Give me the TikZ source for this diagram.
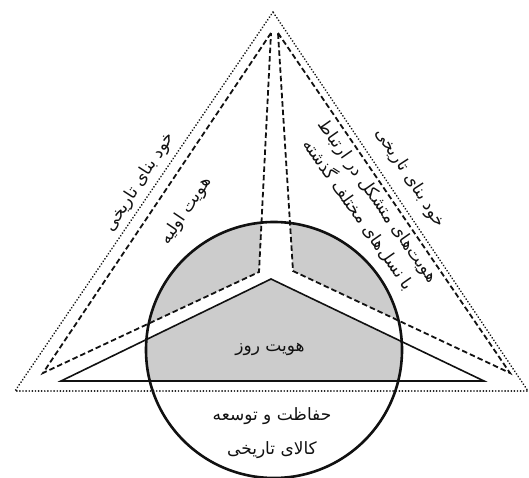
\documentclass[tikz,border=0pt]{standalone}
\usepackage{fontspec}
\newfontfamily\arabicfont[Script=Arabic]{DejaVu Sans}
\TeXXeTstate=1
\usepackage{xcolor}
\definecolor{fondGris}{HTML}{CCCCCC}
\definecolor{traitNoir}{HTML}{111111}
\usepackage{tikz}
\usetikzlibrary{calc}
\newcommand{\Droite}[1]{\beginR #1\endR}
\tikzset{
  %% -- Contours ---------------------------------------------------------
  %% The dotted frame is the building itself, the dashed pair the old
  %% identities, the plain triangle today's identity.
  cadrePoint/.style  = {draw=traitNoir, line width=1.9pt, line cap=round,
                        dash pattern=on 0.01pt off 3.1pt},
  cadreTiret/.style  = {draw=traitNoir, line width=1.8pt,
                        dash pattern=on 5.5pt off 3pt},
  cadrePlein/.style  = {draw=traitNoir, line width=1.6pt, line join=miter},
  cercleRoz/.style   = {draw=traitNoir, line width=2.6pt},
  zoneGrise/.style   = {fill=fondGris, draw=none},
  %%
  %% -- Text -------------------------------------------------------------
  etiquette/.style   = {font=\arabicfont\fontsize{17}{24}\selectfont,
                        text=traitNoir, inner sep=1pt, align=center},
}
\begin{document}
\begin{tikzpicture}[x=1pt, y=-1pt]
\useasboundingbox (0,0) rectangle (529,478);

% corners
\coordinate (sommet) at (273,12);
\coordinate (basG) at (15,391);
\coordinate (basD) at (528,391);
\coordinate (tiretSomG) at (271,33);
\coordinate (tiretSomD) at (278,33);
\coordinate (tiretBasG) at (43,373);
\coordinate (tiretBasD) at (510,373);
\coordinate (tiretIntG) at (259,272);
\coordinate (tiretIntD) at (293,271);
\coordinate (pleinSom) at (271,279);
\coordinate (pleinBasG) at (61,381);
\coordinate (pleinBasD) at (484,381);
\coordinate (centre) at (274,350);

% grey inside the circle
\begin{scope}
  \clip (centre) circle (128);
  \fill[zoneGrise] (tiretSomG) -- (tiretBasG) -- (tiretIntG) -- cycle;
  \fill[zoneGrise] (tiretSomD) -- (tiretBasD) -- (tiretIntD) -- cycle;
  \fill[zoneGrise] (pleinSom) -- (pleinBasG) -- (pleinBasD) -- cycle;
\end{scope}

\draw[cadrePoint] (sommet) -- (basG) -- (basD) -- cycle;
\draw[cadreTiret] (tiretSomG) -- (tiretBasG) -- (tiretIntG) -- cycle;
\draw[cadreTiret] (tiretSomD) -- (tiretBasD) -- (tiretIntD) -- cycle;
\draw[cadrePlein] (pleinSom) -- (pleinBasG) -- (pleinBasD) -- cycle;
\draw[cercleRoz] (centre) circle (128);

\node[etiquette, rotate=57] (bunaG) at (140,182) {\Droite{خود بنای تاریخی}};
\node[etiquette, rotate=56] (avvalie) at (186,211) {\Droite{هویت اولیه}};
\node[etiquette, rotate=-57] (bunaD) at (410,178) {\Droite{خود بنای تاریخی}};
\node[etiquette, rotate=-55] (gozashte) at (368,208)
     {\Droite{هویت‌های متشکل در ارتباط}\\\Droite{با نسل‌های مختلف گذشته}};
\node[etiquette] (ruz) at (270,349) {\Droite{هویت روز}};
\node[etiquette] (hefazat) at (272,416) {\Droite{حفاظت و توسعه}};
\node[etiquette] (kala) at (272,450) {\Droite{کالای تاریخی}};

\end{tikzpicture}
\end{document}
